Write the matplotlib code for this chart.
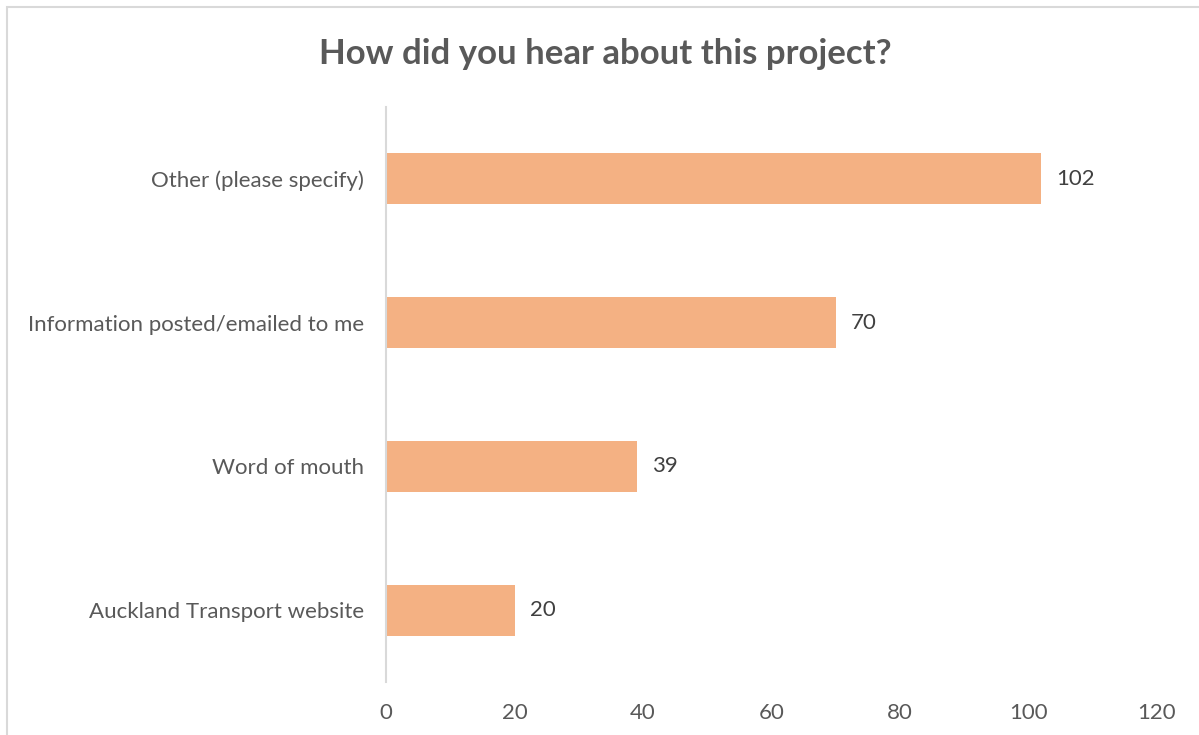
import matplotlib
matplotlib.use("Agg")
import matplotlib.pyplot as plt
from matplotlib.patches import Rectangle

categories = ["Other (please specify)", "Information posted/emailed to me",
              "Word of mouth", "Auckland Transport website"]
counts = [102, 70, 39, 20]
x_ticks = [0, 20, 40, 60, 80, 100, 120]

plt.rcParams["font.family"] = ["Lato", "DejaVu Sans"]

fig = plt.figure(figsize=(11.99, 7.35), dpi=100)
fig.patches.append(Rectangle((7 / 1199, -0.1), 1.2, 1 - 7 / 735 + 0.1,
                             transform=fig.transFigure, fill=False,
                             edgecolor="#d9d9d9", linewidth=1.5))

ax = fig.add_axes([386 / 1199, 1 - 682 / 735, (1157 - 386) / 1199, (682 - 107) / 735])
ypos = list(range(len(categories)))
bars = ax.barh(ypos, counts, height=0.355, color="#F4B183")
ax.set_ylim(len(categories) - 0.5, -0.5)
ax.set_xlim(0, 120)
ax.set_xticks(x_ticks)
ax.set_yticks(ypos)
ax.set_yticklabels(categories)
ax.tick_params(axis="both", length=0, labelsize=16, colors="#595959")
ax.tick_params(axis="x", pad=15)
ax.tick_params(axis="y", pad=16)
for s in ["top", "right", "bottom"]:
    ax.spines[s].set_visible(False)
ax.spines["left"].set_color("#d9d9d9")
ax.spines["left"].set_linewidth(1.5)

for b, v in zip(bars, counts):
    ax.annotate(str(v), (v, b.get_y() + b.get_height() / 2), xytext=(11, 0),
                textcoords="offset points", va="center", ha="left",
                fontsize=16, color="#404040")

fig.text(605 / 1199, 1 - 54 / 735, "How did you hear about this project?",
         ha="center", va="center", fontsize=25, fontweight="bold", color="#595959")

fig.savefig("out.png", dpi=100)
